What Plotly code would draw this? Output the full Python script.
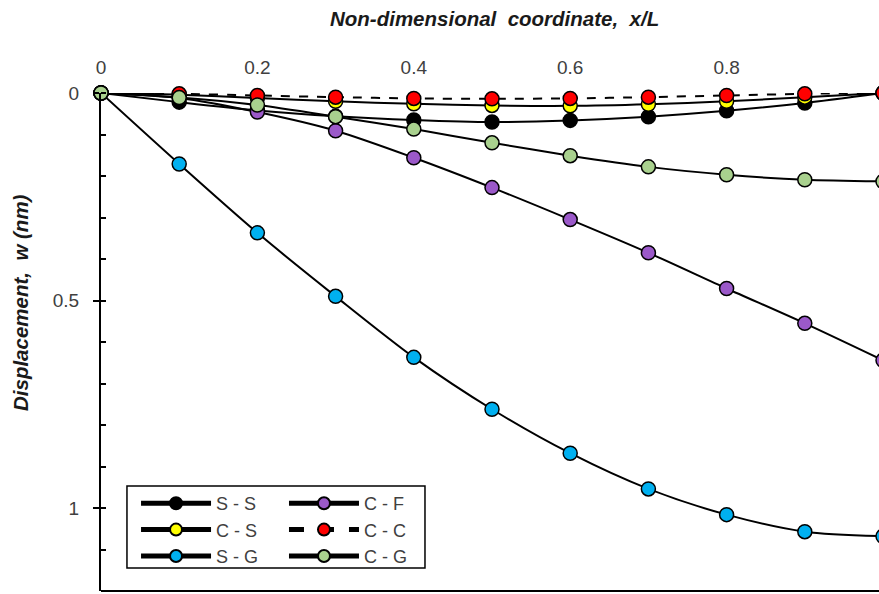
import plotly.graph_objects as go

# ---- data ----
x_pos = [0, 0.1, 0.2, 0.3, 0.4, 0.5, 0.6, 0.7, 0.8, 0.9, 1.0]
ss = [0, 0.022, 0.042, 0.056, 0.065, 0.070, 0.066, 0.057, 0.043, 0.024, 0]
cf = [0, 0.012, 0.046, 0.091, 0.156, 0.228, 0.305, 0.385, 0.471, 0.555, 0.644]
cs = [0, 0.004, 0.012, 0.020, 0.026, 0.030, 0.031, 0.027, 0.020, 0.010, 0]
cc = [0, 0.002, 0.006, 0.010, 0.013, 0.014, 0.013, 0.010, 0.006, 0.002, 0]
sg = [0, 0.171, 0.337, 0.490, 0.637, 0.762, 0.868, 0.954, 1.016, 1.057, 1.068]
cg = [0, 0.011, 0.029, 0.057, 0.087, 0.120, 0.151, 0.178, 0.197, 0.209, 0.213]

series_names = ["S - S", "C - F", "C - S", "C - C", "S - G", "C - G"]
series_vals = [ss, cf, cs, cc, sg, cg]
series_colors = ["#000000", "#9B59C9", "#FFFF00", "#FF0000", "#00B0F0", "#A9D18E"]
series_dash = ["solid", "solid", "solid", "dash", "solid", "solid"]
series_legend = ["legend", "legend2", "legend", "legend2", "legend", "legend2"]

x_ticks = [0, 0.2, 0.4, 0.6, 0.8]
x_ticklabels = ["0", "0.2", "0.4", "0.6", "0.8"]
y_ticks = [0, 0.5, 1.0]
y_ticklabels = ["0", "0.5", "1"]

x_title = "Non-dimensional\u00a0\u00a0coordinate,\u00a0\u00a0x/L"
y_title = "Displacement,\u00a0\u00a0w (nm)"

FONT = "Liberation Sans, Arial, sans-serif"

fig = go.Figure()
for name, vals, col, dash, lg in zip(series_names, series_vals, series_colors,
                                     series_dash, series_legend):
    fig.add_trace(go.Scatter(
        x=x_pos, y=vals, name=name, mode="lines+markers",
        line=dict(color="black", width=2, dash=dash, shape="spline", smoothing=0.8),
        marker=dict(symbol="circle", size=14, color=col,
                    line=dict(color="black", width=1.5)),
        legend=lg, cliponaxis=False,
    ))

# The chart is slightly wider than the window: its right edge (x = 1) is cut off
fig.update_layout(
    width=883, height=594,
    margin=dict(l=101, r=0, t=93, b=3),
    paper_bgcolor="white", plot_bgcolor="white",
    font=dict(family=FONT, color="#404040"),
    showlegend=True,
    legend=dict(x=0.0448, y=0.2129, xanchor="left", yanchor="top",
                bgcolor="rgba(0,0,0,0)", borderwidth=0, itemwidth=70,
                font=dict(size=18, color="#404040"), itemsizing="constant"),
    legend2=dict(x=0.234, y=0.2129, xanchor="left", yanchor="top",
                 bgcolor="rgba(0,0,0,0)", borderwidth=0, itemwidth=70,
                 font=dict(size=18, color="#404040"), itemsizing="constant"),
    shapes=[
        # legend frame
        dict(type="rect", xref="paper", yref="paper",
             x0=0.0332, x1=0.4143, y0=0.0462, y1=0.2108,
             line=dict(color="black", width=1.5), layer="below"),
        # bottom horizontal axis line
        dict(type="line", xref="paper", yref="paper", x0=0, x1=1, y0=0, y1=0,
             line=dict(color="black", width=2)),
    ],
    annotations=[
        dict(text="<b><i>" + x_title + "</i></b>", xref="paper", yref="paper",
             x=0.5026, y=1.1506, xanchor="center", yanchor="middle",
             showarrow=False, font=dict(size=20.5, color="#1a1a1a", family=FONT)),
        dict(text="<b><i>" + y_title + "</i></b>", xref="paper", yref="paper",
             x=-0.1036, y=0.5803, xanchor="center", yanchor="middle", textangle=-90,
             showarrow=False, font=dict(size=20.5, color="#1a1a1a", family=FONT)),
    ],
)

fig.update_xaxes(
    range=[0, 1.0], side="top", showgrid=False, zeroline=False,
    showline=False, tickvals=x_ticks, ticktext=x_ticklabels, ticks="",
    ticklabelstandoff=14,
    tickfont=dict(size=19, color="#404040", family=FONT),
)
fig.update_yaxes(
    range=[1.2, 0], showgrid=False, zeroline=False,
    showline=True, linecolor="black", linewidth=2,
    tickvals=y_ticks, ticktext=y_ticklabels,
    ticks="outside", ticklen=6, tickwidth=2, tickcolor="black",
    ticklabelstandoff=10,
    minor=dict(dtick=0.1, ticks="inside", ticklen=5, tickwidth=2, tickcolor="black"),
    tickfont=dict(size=19, color="#404040", family=FONT),
)

fig.write_html(
    "out.html",
    config={"displayModeBar": False},
    post_script="document.body.style.margin='0';document.body.style.overflow='hidden';",
)
